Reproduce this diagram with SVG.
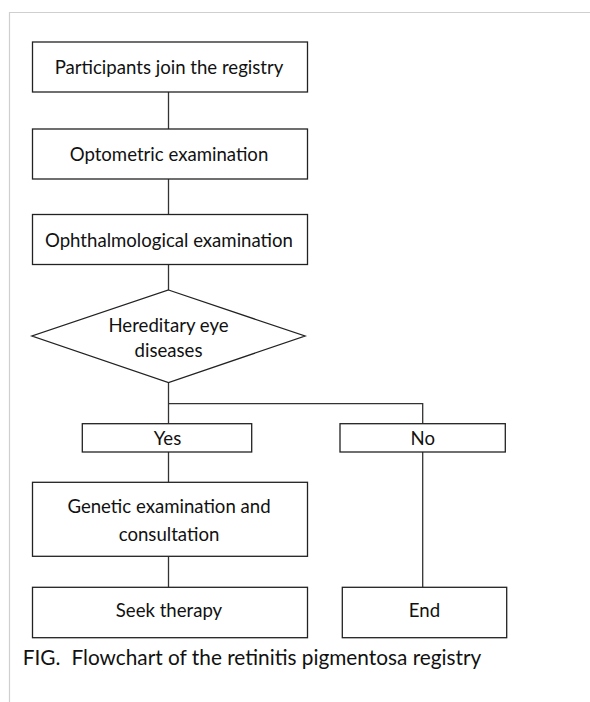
<svg xmlns="http://www.w3.org/2000/svg" width="590" height="702" viewBox="0 0 590 702">
<style>
.box{fill:#fff;stroke:#222;stroke-width:1.3}
.ln{fill:none;stroke:#333;stroke-width:1.3}
.t{font-family:Lato,"Open Sans",sans-serif;font-size:18.6px;fill:#111;text-anchor:middle}
.cap{font-family:Lato,"Open Sans",sans-serif;font-size:20.8px;fill:#111}
.frame{fill:none;stroke:#cfcfcf;stroke-width:1.2}
</style>
<rect width="590" height="702" fill="#fff"/>
<path class="frame" d="M9.5,702 V12.5 H590"/>
<g id="connectors">
<path class="ln" d="M168.5,92 V129"/>
<path class="ln" d="M168.5,179 V214.5"/>
<path class="ln" d="M168.5,264.5 V290"/>
<path class="ln" d="M168.5,382.5 V423.7"/>
<path class="ln" d="M168.5,403.7 H422.7 V423.7"/>
<path class="ln" d="M168.5,452 V482.3"/>
<path class="ln" d="M168.5,556.3 V587.3"/>
<path class="ln" d="M422.7,452 V587.3"/>
</g>
<g id="n1"><rect class="box" x="32.5" y="42" width="275" height="50"/><text class="t" x="169" y="73.5">Participants join the registry</text></g>
<g id="n2"><rect class="box" x="32.5" y="129" width="275" height="50"/><text class="t" x="169" y="161">Optometric examination</text></g>
<g id="n3"><rect class="box" x="32.5" y="214.5" width="275" height="50"/><text class="t" x="169" y="247">Ophthalmological examination</text></g>
<g id="n4"><polygon class="box" points="168.5,290 305,336 168.5,382.5 32,336"/><text class="t" x="168.5" y="332">Hereditary eye</text><text class="t" x="168.5" y="356.5">diseases</text></g>
<g id="n5"><rect class="box" x="82.3" y="423.7" width="169.4" height="28.3"/><text class="t" x="167.5" y="444.5">Yes</text></g>
<g id="n6"><rect class="box" x="340" y="423.7" width="165.3" height="28.3"/><text class="t" x="422.7" y="444.5">No</text></g>
<g id="n7"><rect class="box" x="32.5" y="482.3" width="275" height="74"/><text class="t" x="169" y="513">Genetic examination and</text><text class="t" x="169" y="540.5">consultation</text></g>
<g id="n8"><rect class="box" x="32.5" y="587.3" width="275" height="50.4"/><text class="t" x="169" y="617">Seek therapy</text></g>
<g id="n9"><rect class="box" x="342.3" y="587.3" width="164.4" height="50.4"/><text class="t" x="424.5" y="617">End</text></g>
<text class="cap" x="22.7" y="664.5">FIG.<tspan x="71.5">Flowchart of the retinitis pigmentosa registry</tspan></text>
</svg>
